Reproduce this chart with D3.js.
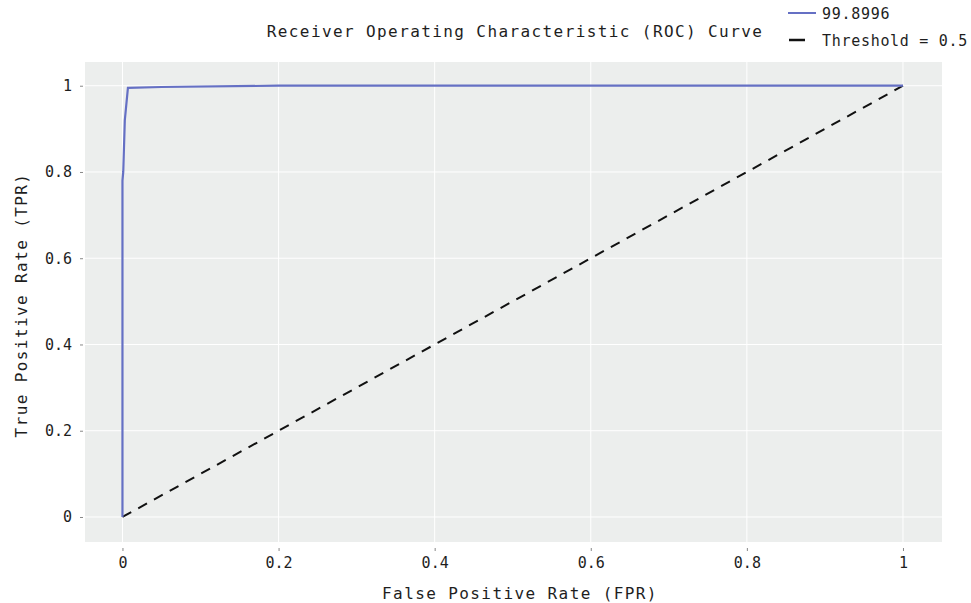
<!DOCTYPE html>
<html>
<head>
<meta charset="utf-8">
<script src="https://cdn.jsdelivr.net/npm/d3@7"></script>
<style>
body{margin:0;background:#fff;}
text{font-family:"DejaVu Sans Mono",monospace;fill:#1e1e1e;}
</style>
</head>
<body>
<svg width="971" height="603"></svg>
<script>
// roc curve points
var fpr = [0, 0, 0.001, 0.003, 0.007, 0.05, 0.2, 0.5, 1];
var tpr = [0, 0.78, 0.8, 0.92, 0.995, 0.997, 1, 1, 1];
var diagX = [0, 1];
var diagY = [0, 1];
var xTicks = [0, 0.2, 0.4, 0.6, 0.8, 1];
var yTicks = [0, 0.2, 0.4, 0.6, 0.8, 1];
var legendLabels = ["99.8996", "Threshold = 0.5"];

var svg = d3.select("svg");
var x = d3.scaleLinear().domain([-0.048, 1.05]).range([85, 942]);
var y = d3.scaleLinear().domain([-0.058, 1.055]).range([542, 62]);

// panel
svg.append("rect")
	.attr("x", 85).attr("y", 62)
	.attr("width", 857).attr("height", 480)
	.attr("fill", "#eceeed");

var fmt = function(d){ return d == 0 || d == 1 ? d3.format("d")(d) : d3.format(".1f")(d); };

// grid
svg.append("g").selectAll("line").data(xTicks).join("line")
	.attr("x1", d => x(d)).attr("x2", d => x(d))
	.attr("y1", 62).attr("y2", 542)
	.attr("stroke", "#fff").attr("stroke-width", 1);
svg.append("g").selectAll("line").data(yTicks).join("line")
	.attr("y1", d => y(d)).attr("y2", d => y(d))
	.attr("x1", 85).attr("x2", 942)
	.attr("stroke", "#fff").attr("stroke-width", 1);

// axes
var xAxis = svg.append("g").attr("transform", "translate(0,548)")
	.call(d3.axisBottom(x).tickValues(xTicks).tickFormat(fmt).tickSize(3).tickPadding(6));
var yAxis = svg.append("g").attr("transform", "translate(83,0)")
	.call(d3.axisLeft(y).tickValues(yTicks).tickFormat(fmt).tickSize(3).tickPadding(8));
[xAxis, yAxis].forEach(function(a){
	a.select(".domain").remove();
	a.selectAll(".tick line").attr("stroke", "#888");
	a.selectAll("text").attr("font-size", 15).attr("fill", "#2a2a2a")
		.style("font-family", "'DejaVu Sans Mono',monospace");
});

// diagonal
var line = d3.line().x(d => x(d[0])).y(d => y(d[1]));
svg.append("path")
	.attr("d", line(d3.zip(diagX, diagY)))
	.attr("fill", "none").attr("stroke", "#111")
	.attr("stroke-width", 2).attr("stroke-dasharray", "10,8");

// roc
svg.append("path")
	.attr("d", line(d3.zip(fpr, tpr)))
	.attr("fill", "none").attr("stroke", "#6570c4")
	.attr("stroke-width", 2.2);

// labels
svg.append("text").attr("x", 515).attr("y", 37).attr("text-anchor", "middle")
	.attr("font-size", 16).attr("letter-spacing", 1.4)
	.text("Receiver Operating Characteristic (ROC) Curve");
svg.append("text").attr("x", 520).attr("y", 599).attr("text-anchor", "middle")
	.attr("font-size", 16).attr("letter-spacing", 1.4)
	.text("False Positive Rate (FPR)");
svg.append("text").attr("transform", "translate(27,305) rotate(-90)").attr("text-anchor", "middle")
	.attr("font-size", 16).attr("letter-spacing", 1.4)
	.text("True Positive Rate (TPR)");

// legend
var lg = svg.append("g");
lg.append("line").attr("x1", 788).attr("x2", 816).attr("y1", 13).attr("y2", 13)
	.attr("stroke", "#6570c4").attr("stroke-width", 2);
lg.append("line").attr("x1", 789).attr("x2", 805).attr("y1", 40).attr("y2", 40)
	.attr("stroke", "#111").attr("stroke-width", 2.5);
lg.selectAll("text").data(legendLabels).join("text")
	.attr("x", 822).attr("y", (d, i) => 19 + i * 27)
	.attr("font-size", 15).attr("letter-spacing", 0.7).text(d => d);
</script>
</body>
</html>
